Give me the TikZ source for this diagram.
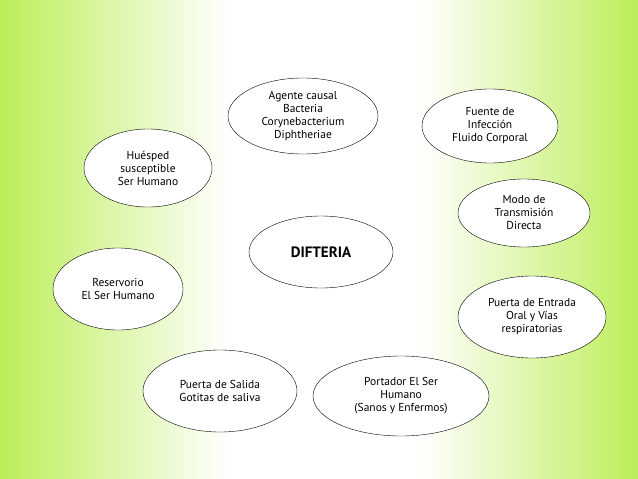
\documentclass[tikz,border=0pt]{standalone}
\usepackage{fontspec}
\setmainfont{PT Sans}
\usetikzlibrary{shapes.geometric}
\definecolor{limebg}{RGB}{188,238,88}

\begin{document}
\begin{tikzpicture}[x=1pt,y=-1pt]
\tikzstyle{bubble}=[draw=black,fill=white,ellipse,inner sep=0pt,align=center,font=\fontsize{11.5}{13}\selectfont]
% background
\useasboundingbox (0,0) rectangle (638,479);
\fill [white] (0,0) rectangle (638,479);
\shade [left color=limebg,right color=white] (0,0) rectangle (230,479);
\shade [left color=white,right color=limebg] (420,0) rectangle (638,479);
% ellipses
\node [bubble,minimum width=150,minimum height=76] (agente) at (303,116) {Agente causal\\Bacteria\\Corynebacterium\\Diphtheriae};
\node [bubble,minimum width=136,minimum height=74] (fuente) at (490,126) {Fuente de\\Infección\\Fluido Corporal};
\node [bubble,minimum width=128,minimum height=78] (huesped) at (148,168) {Huésped\\susceptible\\Ser Humano};
\node [bubble,minimum width=132,minimum height=68] (modo) at (524,213) {Modo de\\Transmisión\\Directa};
\node [bubble,minimum width=144,minimum height=72,font=\bfseries\fontsize{15}{18}\selectfont] (difteria) at (321,252) {DIFTERIA};
\node [bubble,minimum width=130,minimum height=82] (reservorio) at (118,289) {Reservorio\\El Ser Humano};
\node [bubble,minimum width=148,minimum height=82] (entrada) at (532,317) {Puerta de Entrada\\Oral y Vías\\respiratorias};
\node [bubble,minimum width=154,minimum height=82] (salida) at (220,391) {Puerta de Salida\\Gotitas de saliva};
\node [bubble,minimum width=176,minimum height=80] (portador) at (401,396) {Portador El Ser\\Humano\\(Sanos y Enfermos)};
\end{tikzpicture}
\end{document}
